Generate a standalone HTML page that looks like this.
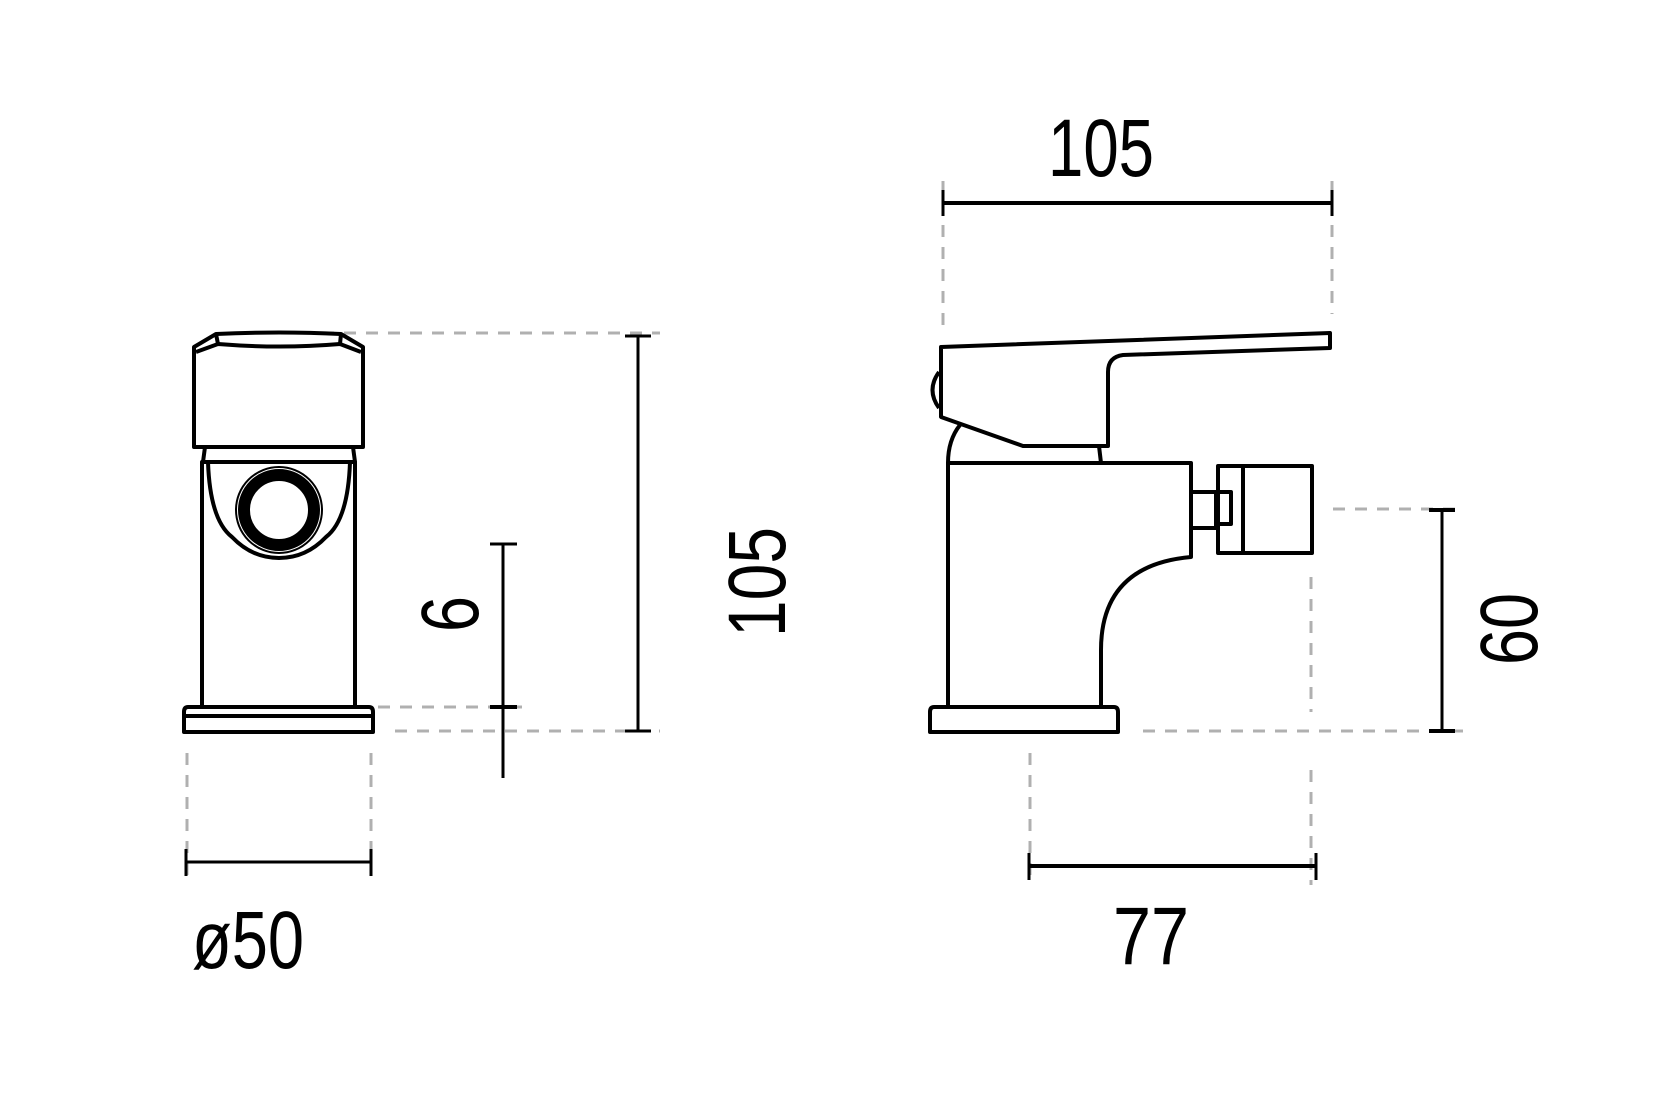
<!DOCTYPE html>
<html><head><meta charset="utf-8"><style>html,body{margin:0;padding:0;background:#fff}svg{display:block}</style></head>
<body>
<svg width="1667" height="1110" viewBox="0 0 1667 1110" xmlns="http://www.w3.org/2000/svg">
<g stroke="#b0b0b0" stroke-width="3" stroke-dasharray="12,10" fill="none">
<line x1="300" y1="333" x2="660" y2="333"/>
<line x1="378" y1="707" x2="525" y2="707"/>
<line x1="395" y1="731" x2="660" y2="731"/>
<line x1="187" y1="753" x2="187" y2="885"/>
<line x1="371" y1="753" x2="371" y2="885"/>
<line x1="943" y1="181" x2="943" y2="327"/>
<line x1="1332" y1="181" x2="1332" y2="314"/>
<line x1="1333" y1="509" x2="1465" y2="509"/>
<line x1="1143" y1="731" x2="1465" y2="731"/>
<line x1="1311" y1="577" x2="1311" y2="712"/>
<line x1="1311" y1="770" x2="1311" y2="885"/>
<line x1="1030" y1="753" x2="1030" y2="885"/>
</g>
<g stroke="#000" stroke-width="3" fill="none">
<line x1="638" y1="336" x2="638" y2="731"/><line x1="625" y1="336" x2="651" y2="336"/><line x1="625" y1="731" x2="651" y2="731"/>
<line x1="503" y1="544" x2="503" y2="778"/><line x1="490" y1="544" x2="517" y2="544"/><line x1="490" y1="707" x2="517" y2="707" stroke-width="4"/>
<line x1="186" y1="862" x2="371" y2="862"/><line x1="186" y1="849" x2="186" y2="876"/><line x1="371" y1="849" x2="371" y2="876"/>
<line x1="943" y1="203" x2="1332" y2="203" stroke-width="4"/><line x1="943" y1="190" x2="943" y2="216"/><line x1="1332" y1="190" x2="1332" y2="216"/>
<line x1="1029" y1="866" x2="1316" y2="866" stroke-width="4"/><line x1="1029" y1="853" x2="1029" y2="880"/><line x1="1316" y1="853" x2="1316" y2="880"/>
<line x1="1442" y1="510" x2="1442" y2="731"/><line x1="1429" y1="510" x2="1455" y2="510" stroke-width="4"/><line x1="1429" y1="731" x2="1455" y2="731" stroke-width="4"/>
</g>
<g stroke="#000" stroke-width="4" fill="none" stroke-linejoin="round">
<path d="M194,447 L194,347 L216,334 Q280,331 341,334 L363,347 L363,447 Z"/>
<path d="M196,352 L218,344 Q280,349 340,344 L361,352"/>
<line x1="216" y1="334" x2="218" y2="344"/><line x1="341" y1="334" x2="340" y2="344"/>
<path d="M205,447 L203,462 M353,447 L355,462"/>
<path d="M202,707 L202,462 L355,462 L355,707"/>
<path d="M208,462 Q210,520 232,537 Q252,558 279,558 Q306,558 326,537 Q348,520 350,462"/>
<circle cx="279" cy="510" r="43" stroke-width="2"/>
<circle cx="279" cy="510" r="35" stroke-width="12"/>
<path d="M188,707 L369,707 Q373,707 373,712 L373,732 L184,732 L184,712 Q184,707 188,707 Z"/>
<line x1="186" y1="716" x2="371" y2="716"/>
<path d="M941,347 L1330,333 L1330,348 L1123,355 Q1108,357 1108,372 L1108,446 L1023,446 L941,417 Z"/>
<path d="M939,372 Q926,390 939,408"/>
<path d="M960,425 Q948,440 948,463 M1099,446 L1101,463"/>
<path d="M948,707 L948,463 L1191,463 L1191,557 Q1101,565 1101,650 L1101,707"/>
<path d="M934,707 L1114,707 Q1118,707 1118,712 L1118,732 L930,732 L930,712 Q930,707 934,707 Z"/>
<path d="M1193,492 L1216,492 L1216,528 L1193,528"/>
<rect x="1218" y="466" width="94" height="87"/>
<line x1="1243" y1="466" x2="1243" y2="553"/>
<rect x="1218" y="492" width="13" height="32"/>
</g>
<g font-family="'Liberation Sans', sans-serif" fill="#000" font-size="82">
<text x="1048" y="176" textLength="106" lengthAdjust="spacingAndGlyphs">105</text>
<text x="1113" y="964" textLength="76" lengthAdjust="spacingAndGlyphs">77</text>
<text x="192" y="968" textLength="112" lengthAdjust="spacingAndGlyphs">ø50</text>
<text transform="translate(785,637) rotate(-90)" textLength="110" lengthAdjust="spacingAndGlyphs">105</text>
<text transform="translate(478,632) rotate(-90)" textLength="36" lengthAdjust="spacingAndGlyphs">6</text>
<text transform="translate(1537,665) rotate(-90)" textLength="72" lengthAdjust="spacingAndGlyphs">60</text>
</g>
</svg>
</body></html>
